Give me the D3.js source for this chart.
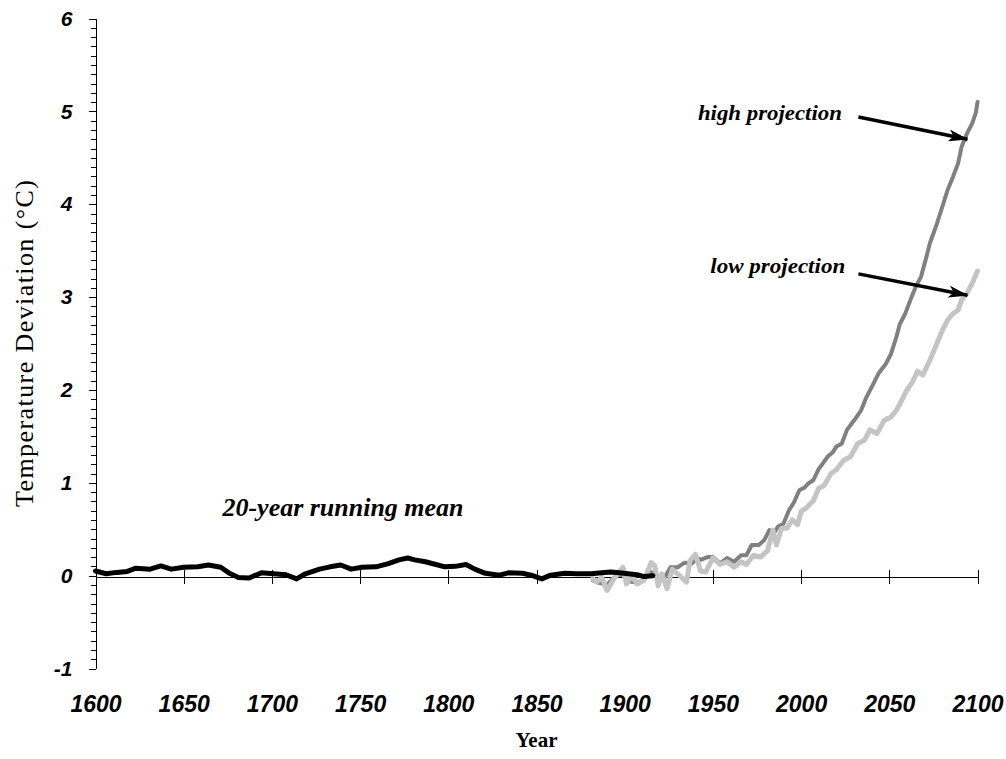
<!DOCTYPE html>
<html>
<head>
  <meta charset="utf-8">
  <title>Temperature Deviation</title>
  <script src="https://d3js.org/d3.v7.min.js"></script>
  <style>
    body { margin: 0; background: #fff; }
    .tick text { font-family: "Liberation Sans", Arial, sans-serif; font-weight: bold; font-style: italic; }
  </style>
</head>
<body>
<svg width="1006" height="759"></svg>
<script>
// 20-year running mean (black)
var meanSeries = [
  [1600,0.05],[1606,0.02],[1612,0.035],[1618,0.045],[1623,0.08],[1631,0.07],[1637,0.105],[1643,0.07],
  [1650,0.09],[1658,0.095],[1664,0.115],[1671,0.09],[1676,0.025],[1681,-0.02],[1687,-0.025],[1694,0.03],
  [1701,0.02],[1708,0.01],[1714,-0.035],[1719,0.02],[1727,0.07],[1733,0.095],[1739,0.115],[1745,0.07],
  [1751,0.09],[1759,0.095],[1766,0.13],[1772,0.17],[1777,0.19],[1781,0.17],[1787,0.15],[1793,0.12],
  [1798,0.095],[1804,0.1],[1810,0.12],[1815,0.07],[1821,0.025],[1829,0.005],[1834,0.03],[1842,0.025],
  [1847,0.005],[1853,-0.035],[1858,0.005],[1866,0.025],[1873,0.02],[1881,0.02],[1887,0.03],[1892,0.04],
  [1897,0.03],[1902,0.02],[1907,0.01],[1911,-0.01],[1916,0]
]

// high projection (dark grey)
var highSeries = [
  [1882,-0.05],[1886,-0.08],[1890,-0.1],[1894,-0.02],[1898,0.02],[1902,-0.06],[1906,-0.07],[1910,-0.06],
  [1914,0.05],[1918,0.0],[1922,-0.04],[1926,0.09],[1930,0.09],[1934,0.14],[1938,0.13],[1941,0.19],
  [1943,0.17],[1947,0.2],[1950,0.2],[1954,0.13],[1958,0.19],[1962,0.15],[1966,0.22],[1969,0.22],
  [1972,0.33],[1976,0.33],[1979,0.38],[1982,0.49],[1985,0.47],[1987,0.53],[1990,0.56],[1993,0.7],
  [1996,0.79],[1999,0.92],[2002,0.95],[2004,0.99],[2007,1.03],[2010,1.15],[2012,1.2],[2015,1.28],
  [2018,1.33],[2020,1.39],[2023,1.42],[2026,1.57],[2030,1.67],[2034,1.78],[2037,1.92],[2040,2.03],
  [2044,2.18],[2048,2.28],[2051,2.39],[2054,2.57],[2056,2.71],[2059,2.82],[2062,2.97],[2065,3.11],
  [2068,3.22],[2071,3.43],[2073,3.58],[2077,3.79],[2080,3.97],[2083,4.15],[2086,4.29],[2089,4.44],
  [2091,4.62],[2094,4.76],[2097,4.87],[2099,4.98],[2100,5.1]
]

// low projection (light grey)
var lowSeries = [
  [1882,-0.03],[1884,-0.07],[1887,-0.02],[1890,-0.16],[1894,-0.03],[1899,0.09],[1901,-0.09],[1904,0],
  [1907,-0.09],[1911,-0.05],[1915,0.14],[1917,0.11],[1919,-0.11],[1921,0.02],[1924,-0.14],[1927,0.07],
  [1930,0.02],[1935,-0.07],[1937,0.16],[1940,0.23],[1943,0.05],[1946,0.04],[1950,0.19],[1954,0.12],
  [1958,0.15],[1962,0.09],[1966,0.15],[1969,0.12],[1973,0.22],[1977,0.2],[1981,0.27],[1984,0.49],
  [1986,0.33],[1989,0.51],[1992,0.51],[1995,0.6],[1998,0.55],[2000,0.69],[2003,0.73],[2007,0.81],
  [2010,0.94],[2013,0.97],[2017,1.1],[2020,1.14],[2024,1.24],[2028,1.28],[2032,1.42],[2036,1.46],
  [2039,1.57],[2043,1.53],[2047,1.67],[2051,1.71],[2054,1.78],[2056,1.85],[2060,2.0],[2063,2.08],
  [2066,2.2],[2069,2.16],[2073,2.32],[2077,2.5],[2080,2.64],[2083,2.75],[2086,2.82],[2089,2.86],
  [2091,2.97],[2094,3.04],[2097,3.15],[2100,3.28]
]

var yearTicks = [1600, 1650, 1700, 1750, 1800, 1850, 1900, 1950, 2000, 2050, 2100]
var tempTicks = [-1, 0, 1, 2, 3, 4, 5, 6]

// text labels, anchored in data units; arrows go from [x1,y1] to [x2,y2]
var labels = [
  { text: "20-year running mean", year: 1672, temp: 0.64, len: 241, size: 26 },
  { text: "high projection", year: 1941.5, temp: 4.91, len: 144, size: 22 },
  { text: "low projection", year: 1948.5, temp: 3.26, len: 135, size: 22 }
]
var arrows = [
  { from: [2032.5, 4.94], to: [2094.3, 4.70] },
  { from: [2032.5, 3.25], to: [2094.3, 3.02] }
]

var svg = d3.select("svg")

var x = d3.scaleLinear().domain([1600, 2100]).range([95.5, 977.5])
var y = d3.scaleLinear().domain([-1, 6]).range([668.5, 18.5])

// y axis: minor ticks every 0.1, major at integers
var minorTicks = d3.range(-10, 61).map(function (d) { return d / 10 }).filter(function (d) { return Math.abs(d - Math.round(d)) > 1e-6 })

svg.append("g")
  .attr("transform", "translate(95.5,0)")
  .attr("shape-rendering", "crispEdges")
  .call(d3.axisLeft(y).tickValues(minorTicks).tickSize(5).tickFormat(""))
  .call(function (g) { g.select(".domain").remove() })

svg.append("g")
  .attr("transform", "translate(95.5,0)")
  .attr("shape-rendering", "crispEdges")
  .call(d3.axisLeft(y).tickValues(tempTicks).tickSize(7).tickSizeOuter(0).tickPadding(16).tickFormat(function (d) { return String(d) }))
  .call(function (g) {
    g.selectAll("text").attr("font-size", 21).attr("fill", "#000")
    g.selectAll("line").attr("stroke", "#000")
    g.select(".domain").attr("stroke", "#000")
  })

// x axis on the zero line, ticks crossing it
var xAxisG = svg.append("g")
  .attr("transform", "translate(0," + Math.round(y(0)) + ".5)")
  .attr("shape-rendering", "crispEdges")
  .call(d3.axisBottom(x).tickValues(yearTicks).tickSize(7).tickSizeOuter(0).tickFormat(""))
xAxisG.selectAll(".tick line").attr("y1", -7).attr("stroke", "#000")
xAxisG.select(".domain").attr("stroke", "#000")

// year labels under the plot
svg.append("g")
  .attr("transform", "translate(0," + y(-1) + ")")
  .call(d3.axisBottom(x).tickValues(yearTicks).tickSize(0).tickPadding(27).tickFormat(function (d) { return String(d) }))
  .call(function (g) {
    g.select(".domain").remove()
    g.selectAll("text").attr("font-size", 23).attr("fill", "#000")
  })

// series
var line = d3.line()
  .x(function (d) { return x(d[0]) })
  .y(function (d) { return y(d[1]) })

svg.append("path").datum(highSeries)
  .attr("d", line).attr("fill", "none")
  .attr("stroke", "#808080").attr("stroke-width", 4)
  .attr("stroke-linejoin", "round").attr("stroke-linecap", "round")

svg.append("path").datum(lowSeries)
  .attr("d", line).attr("fill", "none")
  .attr("stroke", "#c4c4c4").attr("stroke-width", 5)
  .attr("stroke-linejoin", "round").attr("stroke-linecap", "round")

svg.append("path").datum(meanSeries)
  .attr("d", line).attr("fill", "none")
  .attr("stroke", "#000").attr("stroke-width", 5)
  .attr("stroke-linejoin", "round").attr("stroke-linecap", "round")

// axis titles
svg.append("text")
  .attr("transform", "translate(33," + ((y(6) + y(-1)) / 2) + ") rotate(-90)")
  .attr("text-anchor", "middle")
  .attr("font-family", "'Liberation Serif', 'Times New Roman', serif")
  .attr("font-size", 26)
  .attr("textLength", 327)
  .attr("lengthAdjust", "spacing")
  .text("Temperature Deviation (°C)")

svg.append("text")
  .attr("x", (x(1600) + x(2100)) / 2)
  .attr("y", 747)
  .attr("text-anchor", "middle")
  .attr("font-family", "'Liberation Serif', 'Times New Roman', serif")
  .attr("font-weight", "bold")
  .attr("font-size", 21)
  .text("Year")

// annotations
svg.append("defs").append("marker")
  .attr("id", "head")
  .attr("viewBox", "0 -6 20 12")
  .attr("refX", 19).attr("refY", 0)
  .attr("markerWidth", 20).attr("markerHeight", 12)
  .attr("markerUnits", "userSpaceOnUse")
  .attr("orient", "auto")
  .append("path")
    .attr("d", "M0,-6L20,0L0,6L5,0Z")
    .attr("fill", "#000")

svg.append("g").selectAll("text")
  .data(labels)
  .enter().append("text")
    .attr("x", function (d) { return x(d.year) })
    .attr("y", function (d) { return y(d.temp) })
    .attr("font-family", "'Liberation Serif', 'Times New Roman', serif")
    .attr("font-weight", "bold")
    .attr("font-style", "italic")
    .attr("font-size", function (d) { return d.size })
    .attr("textLength", function (d) { return d.len })
    .attr("lengthAdjust", "spacingAndGlyphs")
    .text(function (d) { return d.text })

svg.append("g").selectAll("line")
  .data(arrows)
  .enter().append("line")
    .attr("x1", function (d) { return x(d.from[0]) })
    .attr("y1", function (d) { return y(d.from[1]) })
    .attr("x2", function (d) { return x(d.to[0]) })
    .attr("y2", function (d) { return y(d.to[1]) })
    .attr("stroke", "#000").attr("stroke-width", 3.5)
    .attr("marker-end", "url(#head)")
</script>
</body>
</html>
